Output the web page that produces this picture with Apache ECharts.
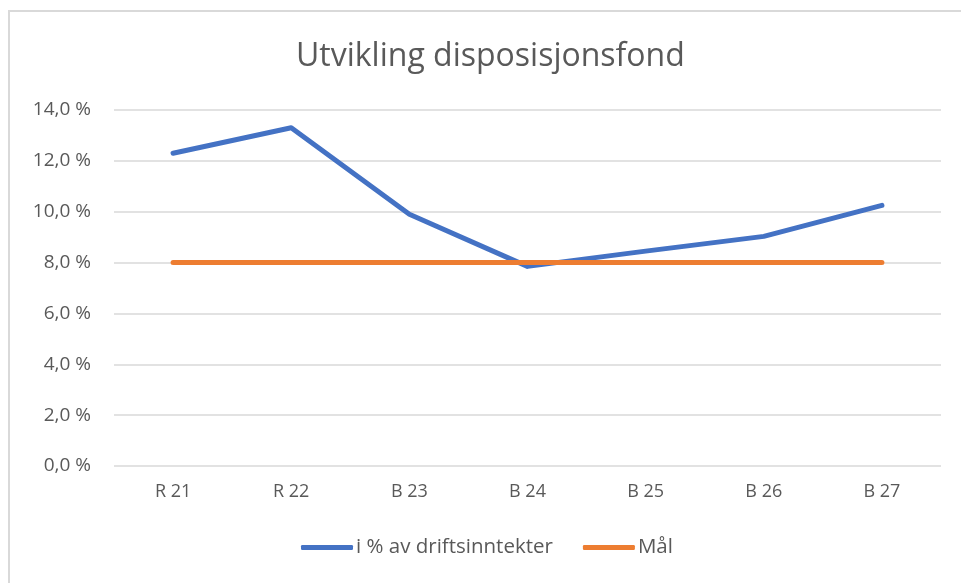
<!DOCTYPE html>
<html>
<head>
<meta charset="utf-8">
<script src="https://cdn.jsdelivr.net/npm/echarts@6/dist/echarts.min.js"></script>
<style>
  html, body { margin: 0; padding: 0; background: #fff; }
  #chart { width: 961px; height: 583px; }
</style>
</head>
<body>
<div id="chart"></div>
<script>
var categories = ['R 21', 'R 22', 'B 23', 'B 24', 'B 25', 'B 26', 'B 27'];
var andel = [12.3, 13.3, 9.9, 7.85, 8.45, 9.03, 10.25];
var maal = [8, 8, 8, 8, 8, 8, 8];
var seriesNames = ['i % av driftsinntekter', 'Mål'];

var font = '"Open Sans", "Liberation Sans", sans-serif';
var textColor = '#595959';

var myChart = echarts.init(document.getElementById('chart'));

myChart.setOption({
    animation: false,
    backgroundColor: '#fff',
    graphic: [{
        type: 'rect',
        shape: { x: 9, y: 11, width: 1000, height: 1000 },
        style: { fill: 'none', stroke: '#d9d9d9', lineWidth: 2 },
        silent: true
    }],
    title: {
        text: 'Utvikling disposisjonsfond',
        left: 291,
        top: 36,
        textStyle: { fontFamily: font, fontSize: 32, fontWeight: 'normal', color: textColor }
    },
    legend: {
        bottom: 20,
        left: 296,
        itemWidth: 52,
        itemHeight: 5,
        itemGap: 30,
        icon: 'roundRect',
        textStyle: { fontFamily: font, fontSize: 20.5, color: textColor, padding: [0, 0, 0, -2] },
        data: seriesNames
    },
    grid: { left: 114, right: 20, top: 110, bottom: 117, containLabel: false },
    xAxis: {
        type: 'category',
        data: categories,
        boundaryGap: true,
        axisLine: { show: false },
        axisTick: { show: false },
        axisLabel: { fontFamily: font, fontSize: 18, color: textColor, margin: 17 }
    },
    yAxis: {
        type: 'value',
        min: 0,
        max: 14,
        interval: 2,
        axisLine: { show: false },
        axisTick: { show: false },
        splitLine: { lineStyle: { color: '#d9d9d9', width: 1.5 } },
        axisLabel: {
            fontFamily: font, fontSize: 19, color: textColor, margin: 23,
            formatter: function (v) { return v.toFixed(1).replace('.', ',') + ' %'; }
        }
    },
    series: [{
        name: seriesNames[0],
        type: 'line',
        data: andel,
        showSymbol: false,
        symbol: 'none',
        color: '#4472C4',
        lineStyle: { width: 5, cap: 'round', join: 'round' },
        z: 3
    }, {
        name: seriesNames[1],
        type: 'line',
        data: maal,
        showSymbol: false,
        symbol: 'none',
        color: '#ED7D31',
        lineStyle: { width: 5, cap: 'round' },
        z: 4
    }]
});
</script>
</body>
</html>
